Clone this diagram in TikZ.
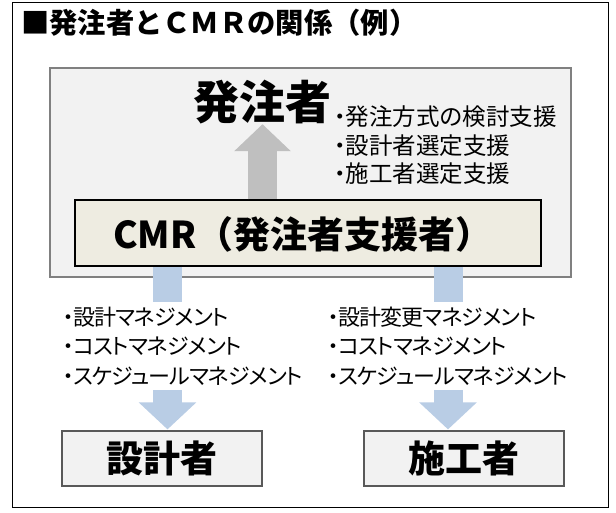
\documentclass[tikz,border=0pt]{standalone}
\usepackage{fontspec}
\setmainfont{Noto Sans CJK JP}
\newfontfamily\jpp{Noto Sans CJK JP}[RawFeature=+palt]
\newfontfamily\jppt{Noto Sans CJK JP}[RawFeature=+palt, LetterSpace=-4]
\usetikzlibrary{arrows.meta}
\definecolor{boxgray}{HTML}{F2F2F2}
\definecolor{edgegray}{HTML}{808080}
\definecolor{darkedge}{HTML}{595959}
\definecolor{beige}{HTML}{EEECE1}
\definecolor{arrowgray}{HTML}{BFBFBF}
\definecolor{arrowblue}{HTML}{B9CDE5}
\begin{document}
\begin{tikzpicture}[x=1pt,y=-1pt,
  panel/.style={draw=edgegray, line width=1.2pt, fill=boxgray, inner sep=0pt},
  cmrbox/.style={draw=black, line width=1.5pt, fill=beige, inner sep=0pt},
  rolebox/.style={draw=darkedge, line width=1.2pt, fill=boxgray, inner sep=0pt,
    minimum width=200pt, minimum height=55pt,
    font=\fontsize{37}{40}\selectfont\bfseries},
  toplist/.style={inner sep=0pt, align=left, anchor=west,
    font=\jpp\fontsize{23.5}{28.5}\selectfont},
  sublist/.style={inner xsep=0pt, inner ysep=4.5pt, align=left, anchor=west,
    font=\jppt\fontsize{22}{29.5}\selectfont},
  grayarrow/.style={draw=arrowgray, line width=29pt,
    -{Triangle[width=55pt,length=27pt]}},
  bluearrow/.style={draw=arrowblue, line width=29pt},
  bluehead/.style={draw=arrowblue, line width=29pt,
    -{Triangle[width=56pt,length=27pt]}, shorten >=1pt}]
\useasboundingbox (0,0) rectangle (616,512);
\draw[line width=0.9pt] (12,2) rectangle (608,507);
\node[inner sep=0pt, anchor=west, font=\fontsize{28.3}{30}\selectfont\bfseries]
  (title) at (21,23) {■発注者とＣＭＲの関係（例）};
% client panel
\node[panel, minimum width=521pt, minimum height=209pt] (panel) at (310.5,172.5) {};
\node[inner sep=0pt, font=\fontsize{46}{50}\selectfont\bfseries] (client) at (262.5,102) {発注者};
\node[toplist] (tasks) at (334,145.5) {・発注方式の検討支援\\・設計者選定支援\\・施工者選定支援};
\node[cmrbox, minimum width=466pt, minimum height=66pt] (cmr) at (308,233) {};
\node[inner sep=0pt, anchor=west, font=\fontsize{37}{40}\selectfont\bfseries]
  (cmrlabel) at (113,234.5) {CMR（発注者支援者）};
\draw[grayarrow] (cmr.north -| client.south) -- (client.south);
% lower role boxes
\node[rolebox] (designer) at (162,458.5) {設計者};
\node[rolebox] (builder) at (464,458.5) {施工者};
\node[sublist] (dlist) at (63,346) {・設計マネジメント\\・コストマネジメント\\・スケジュールマネジメント};
\node[sublist] (blist) at (328,346) {・設計変更マネジメント\\・コストマネジメント\\・スケジュールマネジメント};
\coordinate (dx) at (167.5,0);
\coordinate (bx) at (448,0);
\draw[bluearrow] (cmr.south -| dx) -- (dlist.north -| dx);
\draw[bluehead] (dlist.south -| dx) -- (designer.north -| dx);
\draw[bluearrow] (cmr.south -| bx) -- (blist.north -| bx);
\draw[bluehead] (blist.south -| bx) -- (builder.north -| bx);
\end{tikzpicture}
\end{document}
